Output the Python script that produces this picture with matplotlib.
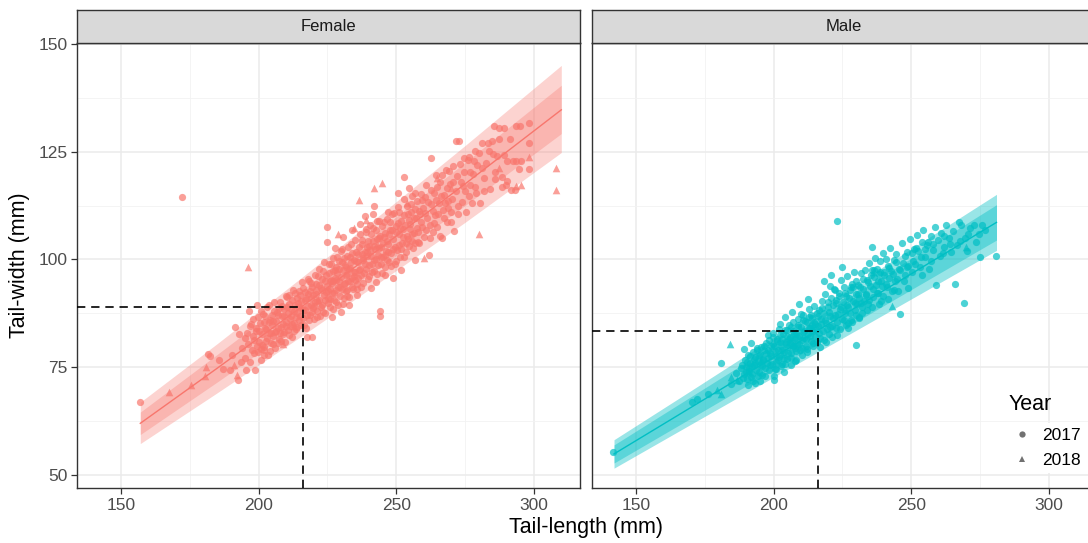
import matplotlib
matplotlib.use('Agg')
import matplotlib.pyplot as plt
from matplotlib.lines import Line2D
from matplotlib.ticker import MultipleLocator
import numpy as np

plt.rcParams['font.family'] = ['Liberation Sans', 'DejaVu Sans']

# ---- data ----
fem_2017 = [
    (157, 67.0), (172, 114.5), (181.6, 78.0), (182.2, 77.5), (185.5, 76.6), (187, 74.5), (189.5, 74.3),
    (190.5, 77.8), (191.3, 84.3), (192.5, 72.0), (192.9, 82.6), (193.5, 76.2), (194, 79.5), (195.5, 74.3),
    (195, 81.8), (196.4, 88.0), (196.8, 84.5), (197.5, 79.0), (198.6, 74.3), (198, 86.2), (198.5, 81.4),
    (199.5, 89.4), (199, 83.5), (199.8, 78.6), (200.2, 80.9), (200.5, 85.2), (201, 76.6), (201.2, 82.8),
    (201.5, 87.4), (202, 79.8), (202.3, 84.1), (202.8, 81.2), (203, 88.9), (203.4, 77.9), (203.8, 83.0),
    (204, 86.0), (204.5, 80.6), (204.8, 84.9), (205.2, 82.2), (205.5, 88.0), (205.9, 79.4), (206.2, 85.7),
    (206.5, 83.4), (207, 87.1), (207.3, 81.5), (207.6, 90.2), (208, 84.3), (208.4, 86.8), (208.8, 82.6),
    (209.2, 88.5), (209.5, 80.8), (209.9, 85.5), (210.2, 91.4), (210.5, 83.7), (210.8, 87.6), (211, 89.7),
    (211.4, 84.6), (211.8, 86.9), (212, 82.1), (212.3, 90.5), (212.7, 88.1), (213, 85.2), (213.3, 92.3),
    (213.6, 83.8), (214, 87.5), (214.3, 89.9), (214.6, 86.0), (215, 91.8), (215.3, 84.7), (215.6, 88.7),
    (216, 93.4), (216.3, 86.5), (216.7, 90.6), (217, 88.2), (217.4, 84.0), (217.5, 82.0), (217.8, 92.1),
    (218.1, 89.3), (218.4, 95.1), (218.8, 87.1), (219, 91.0), (219.5, 82.0), (219.4, 93.6), (219.8, 88.8),
    (220.1, 86.3), (220.4, 90.2), (220.7, 94.4), (221, 92.0), (221.3, 88.0), (221.6, 96.2), (222, 90.7),
    (222.3, 86.9), (222.6, 93.3), (223, 89.5), (223.3, 97.4), (223.6, 91.8), (224, 87.6), (224.3, 94.9),
    (224.6, 92.5), (224.9, 104.1), (224.9, 107.5),
    (225.2, 89.8), (225.5, 96.8), (225.8, 93.1), (226, 90.9), (226.3, 99.0), (226.6, 94.6), (227, 88.6),
    (227.3, 92.2), (227.6, 97.5), (228, 95.3), (228.3, 90.1), (228.6, 100.6), (229, 93.6), (229.3, 97.9),
    (229.6, 91.5), (230, 95.9), (230.3, 102.4), (230.6, 89.6), (231, 94.2), (231.3, 98.8), (231.6, 92.6),
    (232, 96.7), (232.3, 100.9), (232.6, 94.9), (233, 91.3), (233.3, 98.0), (233.6, 103.6), (234, 95.6),
    (234.3, 93.1), (234.6, 99.8), (235, 97.1), (235.3, 101.8), (235.6, 94.4), (226.8, 86.7), (229.8, 87.9),
    (232.8, 89.4), (227.8, 102.7), (230.8, 105.3), (233.8, 106.9), (235.8, 91.8), (228.2, 98.2),
    (231.8, 96.3), (234.8, 96.2), (226.2, 95.2), (229.2, 95.1), (232.2, 93.0), (225.1, 92.6), (233.2, 100.5),
    (230.4, 99.4), (227.2, 95.0),
    (236, 99.3), (236.3, 95.8), (236.6, 102.9), (237, 97.8), (237.3, 93.7), (237.6, 104.6), (238, 100.4),
    (238.3, 96.9), (238.6, 99.0), (239, 106.4), (239.3, 101.7), (239.6, 95.4), (240, 103.2), (240.3, 98.6),
    (240.6, 108.0), (241, 100.8), (241.3, 97.2), (241.4, 110.6), (241.7, 104.3), (242, 99.9), (242.3, 102.4),
    (242.6, 106.8), (243, 96.6), (243.3, 101.1), (243.6, 104.9), (244, 88.0), (244.2, 87.0), (244.3, 99.0),
    (244.6, 103.0), (245, 107.7), (245.3, 100.5), (245.6, 105.3), (246, 98.2), (246.3, 102.0), (246.6, 109.4),
    (236.8, 108.3), (238.8, 110.0), (240.8, 93.4), (242.8, 94.8), (245.8, 96.5), (237.5, 101.2),
    (239.5, 103.0), (243.8, 108.9), (241.9, 112.3), (246.8, 104.2),
    (247, 103.5), (247.4, 99.3), (247.8, 106.9), (248.2, 101.6), (248.6, 110.5), (249, 104.7), (249.4, 98.9),
    (249.8, 107.8), (250.2, 102.2), (250.6, 112.1), (251, 105.8), (251.4, 100.6), (251.8, 109.0),
    (252.2, 103.9), (252.6, 107.1), (253, 114.0), (253.4, 101.8), (253.8, 105.5), (254.2, 110.6),
    (254.6, 103.1), (255, 108.3), (255.4, 112.8), (255.8, 106.0), (256.2, 102.7), (256.6, 109.7), (257, 115.4),
    (257.4, 107.4), (257.8, 104.0), (258.2, 111.3), (248.9, 95.6), (251.9, 97.5), (254.8, 116.5),
    (256.9, 99.9), (250.5, 115.3), (252.9, 119.2),
    (259, 108.6), (259.5, 113.9), (260, 105.2), (260.5, 110.8), (261, 117.2), (261.9, 101.0), (262.2, 108.0),
    (262.8, 123.5), (262.6, 112.9), (263.2, 106.3), (263.6, 115.5), (264, 110.2), (264.5, 119.6), (265, 107.5),
    (265.5, 113.0), (266, 117.9), (266.5, 104.9), (267, 111.5), (267.5, 115.0), (268, 120.8), (268.5, 108.7),
    (269, 113.6), (269.5, 117.4), (270, 111.0), (270.5, 121.7), (271, 106.6), (271.6, 127.5), (271.8, 115.8),
    (272.3, 112.4), (272.9, 127.5),
    (273.2, 122.2), (273.5, 118.0), (274, 113.4), (274.5, 120.2), (275, 115.8), (275.5, 110.9), (276, 123.0),
    (276.6, 123.7), (277, 117.3), (277.5, 113.0), (278, 119.8), (278.6, 125.1), (279, 115.5), (279.5, 121.9),
    (280, 124.8), (280.5, 113.0), (281.3, 126.9), (282, 118.9), (282.5, 122.4), (283.4, 126.9), (283.7, 125.1),
    (284.2, 116.4), (284.9, 127.5), (285.5, 131.0), (286, 120.3), (286.5, 123.9), (287.3, 130.5),
    (287.3, 127.9), (288.5, 119.1), (289, 124.3), (290.3, 118.1), (290.3, 122.9), (291.2, 127.9), (291.6, 116.0),
    (292.3, 122.9), (293.4, 131.0), (293.4, 122.9), (294.6, 121.0), (295.5, 122.9), (298.2, 131.6),
    (298.2, 126.9), (298.2, 121.0), (289, 130.6), (295, 131.0), (293.2, 116.0), (290, 117.2), (288.5, 116.9),
] + [
    (195.2, 77.1), (195.8, 83.0), (196.2, 80.4), (196.9, 76.2), (197.3, 85.0), (197.8, 82.3), (198.2, 78.2),
    (198.9, 84.0), (199.3, 80.0), (199.7, 86.6), (200.1, 83.5), (200.7, 79.2), (200.9, 88.0), (201.4, 80.1),
    (201.8, 85.6), (201.9, 77.9), (202.5, 86.9), (202.6, 83.9), (202.1, 79.0), (203.2, 81.8), (203.6, 85.4),
    (203.9, 89.4), (204.2, 78.7), (204.6, 82.9), (204.9, 87.2), (205.1, 85.8), (205.4, 80.4), (205.7, 90.1),
    (206.1, 83.1), (206.7, 87.8), (206.9, 80.7), (207.1, 84.2), (207.5, 88.7), (207.9, 82.9), (208.1, 81.0),
    (208.5, 89.3), (208.7, 85.0), (209.1, 86.8), (209.4, 83.2), (209.8, 91.5), (210.1, 84.6), (210.4, 88.9),
    (210.9, 82.4), (211.2, 91.8), (211.5, 86.3), (211.9, 88.5), (212.1, 85.0), (212.5, 93.0), (212.9, 83.5),
    (213.1, 89.4), (213.5, 86.6), (213.8, 91.0), (214.1, 84.4), (214.5, 92.6), (214.8, 88.9), (215.1, 86.9),
    (215.5, 90.3), (215.8, 94.7), (216.1, 88.3), (216.5, 84.9), (216.9, 92.4), (217.2, 91.0), (217.6, 87.1),
    (217.9, 95.5), (218.2, 86.0), (218.6, 92.7), (218.9, 89.5), (219.1, 94.6), (219.3, 87.9), (219.7, 91.7),
    (220.2, 89.2), (220.5, 96.5), (220.9, 92.9), (221.1, 86.6), (221.4, 90.3), (221.8, 94.0), (222.1, 97.9),
    (222.5, 89.0), (222.9, 92.9), (223.1, 95.4), (223.5, 87.9), (223.8, 99.4), (224.1, 90.6), (224.5, 96.5),
    (224.8, 93.9), (225.3, 91.1), (225.7, 98.9), (225.9, 95.0), (226.1, 88.9), (226.5, 92.3), (226.9, 97.3),
    (227.1, 100.3), (227.5, 90.5), (227.9, 95.7), (228.1, 92.9), (228.5, 96.9), (228.9, 89.4), (229.1, 99.6),
    (229.5, 93.6), (229.9, 101.9), (230.2, 93.1), (230.5, 97.6), (230.9, 91.0), (231.1, 100.4), (231.5, 94.6),
    (231.9, 98.3), (232.1, 91.6), (232.5, 103.0), (232.9, 97.9), (233.1, 95.0), (233.5, 99.4), (233.9, 93.7),
    (234.1, 101.5), (234.5, 97.1), (234.9, 104.6), (235.1, 95.3), (235.5, 99.7), (235.9, 93.2), (236.1, 101.3),
    (236.5, 97.6), (236.9, 105.8), (237.1, 96.3), (237.5, 103.5), (237.9, 99.9), (238.1, 94.5), (238.5, 101.8),
    (238.9, 107.0), (239.1, 97.9), (239.5, 100.8), (239.9, 104.3), (240.1, 96.1), (240.5, 102.2),
    (240.9, 105.9), (241.1, 99.0), (241.5, 107.4), (241.9, 103.1), (242.1, 97.4), (242.5, 100.0),
    (242.9, 104.7), (243.1, 108.9), (243.5, 98.8), (243.9, 102.6), (244.1, 105.5), (244.5, 100.5),
    (244.9, 96.9), (245.1, 103.9), (245.5, 108.7), (245.9, 101.1), (246.1, 106.2), (246.5, 99.8),
    (246.9, 111.0), (247.1, 101.7), (247.5, 105.9), (247.9, 108.6), (248.1, 98.4), (248.5, 106.9),
    (248.9, 102.4), (249.1, 110.7), (249.5, 103.0), (249.9, 106.3), (250.1, 99.6), (250.5, 108.4),
    (250.9, 103.3), (251.1, 111.0), (251.5, 107.2), (251.9, 102.4), (252.3, 105.1), (252.7, 110.2),
    (252.9, 100.5), (253.3, 108.0), (253.7, 103.9), (253.9, 112.3), (254.3, 104.8), (254.7, 109.2),
    (254.9, 107.1), (255.3, 110.9), (255.7, 104.3), (255.9, 114.8), (256.3, 106.1), (256.7, 111.8),
    (256.9, 103.8), (257.3, 109.6), (257.7, 113.6), (257.9, 106.3), (258.3, 103.9), (258.7, 110.5),
    (258.9, 115.2), (259.3, 107.5), (259.7, 111.9), (260.3, 114.5), (260.7, 106.9), (261.3, 109.6),
    (261.7, 113.3), (262.3, 104.9), (262.7, 116.1), (263.3, 111.2), (263.8, 108.5), (264.3, 113.9),
    (264.8, 116.9), (265.3, 110.6), (265.8, 105.4), (266.3, 114.7), (266.8, 119.5), (267.3, 109.7),
    (267.8, 113.2), (268.3, 116.6), (268.8, 111.9), (269.3, 120.4), (269.8, 108.8), (270.3, 114.0),
    (270.8, 117.9), (272.1, 119.4), (272.6, 110.6), (274.2, 117.0), (274.8, 123.6), (276.3, 114.7),
    (276.8, 120.3), (278.3, 122.8), (278.8, 116.7), (281.2, 121.3), (281.8, 115.9), (285.2, 124.5),
    (285.8, 118.6),
]
fem_2018 = [
    (167.4, 69.2), (175.6, 71.0), (180.4, 72.9), (180.8, 75.1), (191, 75.5), (192, 73.3), (196, 98.3),
    (209, 80.5), (213, 84.5), (221.5, 90.6), (229, 105.8), (234.8, 107.2), (236.6, 113.7), (241.9, 116.6),
    (244.9, 117.7), (239, 109.2), (254, 113.0), (260.1, 100.4), (265, 118.8), (270, 116.5), (280.1, 105.8),
    (287.3, 121.2), (293.6, 117.1), (295.2, 117.3), (298.2, 123.7), (308.1, 121.2), (308.1, 116.1), (243, 103.5),
]
male_2017 = [
    (141.7, 55.4), (170.4, 67.0), (172, 67.7), (176.1, 68.9), (181, 76.0), (184.5, 71.2), (186.2, 73.6),
    (187.5, 71.8),
    (188.2, 74.9), (188.7, 72.6), (189.3, 73.5), (189.6, 76.8), (190, 75.0), (190.4, 72.2), (190.8, 77.9),
    (191.2, 74.2), (191.6, 76.1), (192, 73.4), (192.4, 78.6), (192.8, 75.6), (193.2, 77.3), (193.6, 74.4),
    (194, 79.4), (194.4, 76.4), (194.8, 73.9), (195.2, 78.0), (195.6, 75.4), (196, 77.0), (196.4, 80.0),
    (196.8, 74.8), (197.2, 78.4), (197.6, 76.0), (198, 79.1), (198.4, 81.3), (198.8, 75.5), (199.2, 77.7),
    (199.6, 80.4), (200, 72.0), (200.3, 73.0), (200.4, 78.7), (200.8, 76.3), (201.2, 81.6), (189.1, 79.3),
    (191.9, 80.7), (195, 71.9), (197.9, 82.4), (193.3, 71.4), (199.9, 83.0),
    (201.6, 79.0), (202, 77.3), (202.4, 82.5), (202.8, 80.0), (203.2, 75.8), (203.6, 78.5), (204, 83.6),
    (204.4, 80.9), (204.8, 77.0), (205.2, 79.8), (205.6, 84.7), (206, 82.0), (206.4, 78.3), (206.8, 81.2),
    (207.2, 85.6), (207.6, 79.5), (208, 83.0), (208.4, 80.4), (208.8, 86.3), (209.2, 82.2), (209.6, 78.9),
    (210, 84.4), (210.4, 81.4), (210.8, 87.1), (211.2, 83.4), (211.6, 79.9), (212, 85.4), (212.4, 82.6),
    (212.8, 88.5), (213.2, 84.0), (213.6, 81.0), (214, 86.4), (214.4, 83.3), (214.8, 89.2), (215.2, 85.0),
    (202.2, 85.0), (204.2, 86.7), (206.2, 75.5), (208.2, 76.8), (210.2, 77.9), (212.2, 79.2), (214.2, 80.6),
    (203, 81.5), (205, 82.3), (207, 83.3), (209, 84.9), (211, 81.8), (213, 86.6), (215, 82.3), (201, 74.5),
    (203.8, 73.9), (206.6, 87.9), (209.4, 89.6), (212.6, 90.9), (207.8, 81.9), (210.6, 85.9), (213.8, 84.8),
    (205.8, 80.6), (201.8, 83.8), (215.6, 87.6),
    (216, 84.6), (216.4, 88.3), (216.8, 81.9), (217.2, 86.1), (217.6, 90.4), (218, 83.5), (218.4, 87.5),
    (218.8, 92.0), (219.2, 85.3), (219.6, 88.9), (220, 82.7), (220.4, 86.8), (220.8, 91.0), (221.2, 84.6),
    (221.6, 89.4), (222, 93.1), (222.2, 93.0), (222.4, 87.2), (222.8, 90.6), (223.2, 85.4), (223.6, 92.3),
    (224, 88.4), (224.4, 95.2), (224.8, 86.3), (225.2, 90.1), (225.6, 93.6), (226, 87.7), (226.4, 91.6),
    (226.8, 96.1), (227.2, 89.0), (227.6, 92.9), (228, 86.0), (228.4, 94.4), (228.8, 90.3), (229.2, 97.2),
    (229.6, 88.2), (230, 92.0), (230.1, 95.1), (230.1, 80.1), (230.4, 89.6), (230.8, 94.1), (231.2, 91.1),
    (231.6, 96.8), (232, 88.9), (217, 79.8), (219, 80.8), (221, 96.3), (223, 82.5), (225, 98.3), (227, 84.1),
    (229, 93.5), (231, 86.5), (222.9, 109.0), (218.2, 95.0), (220.6, 93.8), (226.2, 84.7),
    (232.4, 93.2), (232.8, 90.3), (233.2, 97.6), (233.6, 92.0), (234, 95.3), (234.4, 89.6), (234.8, 99.1),
    (235.2, 93.8), (235.6, 97.5), (236, 91.4), (236.4, 95.9), (236.8, 100.3), (237.2, 94.0), (237.6, 97.9),
    (238, 92.3), (238.4, 96.6), (238.8, 99.6), (239.2, 94.9), (239.6, 101.5), (240, 97.0), (240.9, 100.0),
    (241.2, 93.6), (241.6, 98.5), (242, 95.8), (242.4, 102.6), (242.8, 97.3), (243.6, 99.8), (244, 95.0),
    (244.6, 101.2), (245.4, 97.8), (246, 87.4), (246.6, 103.9), (247.2, 99.1), (247.8, 96.3), (248.4, 101.7),
    (249, 98.4), (249.6, 104.8), (250.2, 101.5), (250.9, 102.5), (235.6, 102.8), (238.9, 90.3), (243.2, 92.8),
    (251.4, 99.0), (252, 105.6), (252.6, 101.9), (253.2, 98.2), (253.8, 104.0), (254.4, 106.8), (255, 100.6),
    (255.6, 103.3), (256, 104.0), (256.6, 97.9), (257.2, 105.4), (258, 102.1), (258.6, 107.6), (259, 94.0),
    (259.6, 104.4), (260.4, 100.9), (261, 106.1), (262, 103.0), (262.8, 108.1), (263.6, 104.9), (264.4, 101.7),
    (265.2, 106.5), (266.1, 94.4), (266.6, 103.4), (267.4, 108.7), (268, 108.0), (269.1, 90.0), (269.4, 105.0),
    (270.4, 102.0), (271.2, 107.3), (272.8, 108.0), (274.6, 105.9), (274.9, 100.5), (275.9, 108.0),
    (277, 106.8), (280.7, 100.9), (273.5, 104.0),
] + [
    (188.5, 75.6), (189.8, 73.9), (190.2, 76.3), (190.6, 70.8), (190.9, 74.9), (191.4, 77.6), (191.8, 72.7),
    (192.2, 75.4), (192.6, 71.9), (192.9, 77.0), (193.4, 76.0), (193.8, 79.0), (194.2, 73.0), (194.6, 77.9),
    (194.9, 75.5), (195.4, 79.8), (195.8, 73.2), (196.2, 76.8), (196.6, 78.9), (196.9, 72.9), (197.4, 80.6),
    (197.8, 77.1), (198.2, 74.4), (198.6, 78.4), (198.9, 80.0), (199.4, 75.8), (199.8, 82.0), (200.2, 79.9),
    (200.6, 74.6), (200.9, 77.7), (201.4, 81.0), (201.7, 76.6), (202.2, 80.8), (202.6, 75.2), (202.9, 78.9),
    (203.4, 82.6), (203.7, 77.1), (204.2, 75.7), (204.6, 80.5), (204.9, 83.6), (205.4, 78.3), (205.7, 81.5),
    (206.2, 84.3), (206.5, 77.1), (206.9, 79.9), (207.4, 82.6), (207.7, 76.5), (208.2, 78.7), (208.6, 82.1),
    (208.9, 84.4), (209.3, 80.3), (209.8, 87.4), (210.3, 79.4), (210.7, 83.1), (211.3, 85.7), (211.7, 81.6),
    (212.3, 78.6), (212.7, 84.0), (213.3, 82.2), (213.7, 87.2), (214.3, 79.9), (214.7, 85.6), (215.3, 83.9),
    (215.8, 80.9), (216.2, 86.8), (216.6, 83.0), (217.3, 85.1), (217.7, 88.7), (218.2, 81.3), (218.6, 86.0),
    (219.3, 83.8), (219.7, 90.2), (220.2, 87.9), (220.6, 84.3), (221.3, 82.1), (221.7, 86.4), (222.5, 89.8),
    (222.8, 84.1), (223.3, 87.3), (223.7, 91.5), (224.2, 83.9), (224.6, 88.9), (225.4, 86.0), (225.8, 92.2),
    (226.5, 89.5), (226.9, 85.3), (227.4, 91.0), (227.8, 87.7), (228.2, 93.5), (228.6, 85.6), (229.4, 89.9),
    (229.8, 87.2), (230.5, 91.9), (230.9, 86.7), (231.4, 93.6), (231.8, 89.8), (232.2, 87.5), (232.6, 95.4),
    (233.4, 91.8), (233.8, 88.3), (234.2, 94.8), (234.6, 90.6), (235.4, 96.3), (235.8, 88.9), (236.2, 93.1),
    (236.6, 97.5), (237.4, 92.2), (237.8, 95.0), (238.2, 89.6), (238.6, 97.0), (239.4, 93.9), (239.8, 91.5),
    (240.3, 96.4), (240.7, 94.2), (241.4, 90.8), (241.8, 98.1), (243.3, 96.6), (243.8, 92.9), (244.3, 99.5),
    (244.8, 95.4), (245.3, 92.8), (245.8, 97.6), (247.3, 95.0), (247.8, 100.9), (248.3, 98.2), (248.8, 93.4),
    (250.3, 97.1), (250.6, 99.7), (251.6, 102.7), (253.4, 100.6), (253.9, 96.5), (255.2, 102.4),
    (257.3, 99.7), (257.8, 103.7), (261.4, 101.5), (261.8, 105.4), (264.2, 103.7), (267.8, 104.2),
    (270.8, 106.0),
]
male_2018 = [
    (184, 80.3), (179.5, 69.7), (180.7, 68.9), (184.4, 72.8), (186.8, 72.0), (191, 74.0), (195.5, 76.8),
    (203, 78.0), (207, 80.2), (242.9, 89.1), (270.1, 102.9), (236, 97.0), (226, 88.5), (214, 84.0),
]

# fitted line and prediction bands
fem_fit_x = [157, 185, 216, 245, 275, 310]
fem_fit_y = [62.0, 74.8, 89.2, 103.0, 117.5, 134.7]
fem_outer_lo = [57.3, 69.1, 82.4, 95.2, 108.6, 124.8]
fem_outer_hi = [66.9, 80.5, 96.0, 110.8, 126.4, 145.0]
fem_inner_lo = [59.4, 71.6, 85.4, 98.6, 112.5, 129.2]
fem_inner_hi = [64.6, 78.0, 93.0, 107.4, 122.5, 140.4]

male_fit_x = [142, 170, 200, 216, 240, 281]
male_fit_y = [54.9, 65.7, 77.3, 83.5, 92.8, 108.6]
male_outer_lo = [51.6, 61.8, 72.7, 78.5, 87.2, 102.1]
male_outer_hi = [58.2, 69.6, 81.9, 88.5, 98.4, 115.1]
male_inner_lo = [52.8, 63.2, 74.4, 80.3, 89.3, 104.5]
male_inner_hi = [57.0, 68.2, 80.2, 86.7, 96.3, 112.7]

# reference cut-off (dashed lines)
cut_x = 216
cut_y = {'Female': 89.0, 'Male': 83.5}

col_f = '#F8766D'
col_m = '#00BFC4'

W, H = 1088, 543
fig = plt.figure(figsize=(W / 100, H / 100), dpi=100)

px = lambda v: v / W
py = lambda v: v / H
ax_bottom = 1 - py(488)
ax_h = py(445)
ax_w = px(503)

panels = [
    ('Female', 77, col_f, fem_2017, fem_2018, fem_fit_x, fem_fit_y,
     fem_outer_lo, fem_outer_hi, fem_inner_lo, fem_inner_hi, 0.32),
    ('Male', 592, col_m, male_2017, male_2018, male_fit_x, male_fit_y,
     male_outer_lo, male_outer_hi, male_inner_lo, male_inner_hi, 0.40),
]

xlim = (134, 316.8)
ylim = (47.0, 150.2)

for i, (name, left, col, d17, d18, fx, fy, olo, ohi, ilo, ihi, balpha) in enumerate(panels):
    ax = fig.add_axes([px(left), ax_bottom, ax_w, ax_h])
    ax.set_xlim(*xlim)
    ax.set_ylim(*ylim)

    ax.xaxis.set_major_locator(MultipleLocator(50))
    ax.xaxis.set_minor_locator(MultipleLocator(25))
    ax.yaxis.set_major_locator(MultipleLocator(25))
    ax.yaxis.set_minor_locator(MultipleLocator(12.5))
    ax.grid(which='major', color='#EBEBEB', lw=1.1, zorder=0)
    ax.grid(which='minor', color='#F2F2F2', lw=0.6, zorder=0)
    ax.set_axisbelow(True)

    ax.fill_between(fx, olo, ohi, color=col, alpha=balpha, lw=0, zorder=1)
    ax.fill_between(fx, ilo, ihi, color=col, alpha=balpha, lw=0, zorder=1)

    a = np.array(d17)
    ax.scatter(a[:, 0], a[:, 1], s=27, marker='o', color=col, alpha=0.7, lw=0, zorder=2)
    b = np.array(d18)
    ax.scatter(b[:, 0], b[:, 1], s=30, marker='^', color=col, alpha=0.7, lw=0, zorder=2)

    ax.plot(fx, fy, color=col, lw=1.0, zorder=3)

    cy = cut_y[name]
    ax.plot([xlim[0], cut_x], [cy, cy], color='black', lw=1.2, ls=(0, (5, 3.5)), zorder=4)
    ax.plot([cut_x, cut_x], [ylim[0], cy], color='black', lw=1.2, ls=(0, (5, 3.5)), zorder=4)

    for sp in ax.spines.values():
        sp.set_color('#333333')
        sp.set_linewidth(1.0)
    ax.tick_params(which='major', length=4, width=0.9, color='#333333',
                   labelsize=12.5, labelcolor='#4D4D4D', pad=3)
    ax.tick_params(which='minor', length=0)
    if i > 0:
        ax.tick_params(axis='y', labelleft=False, length=0)

    # facet strip
    sax = fig.add_axes([px(left), 1 - py(43), ax_w, py(33)])
    sax.set_facecolor('#D9D9D9')
    sax.set_xticks([])
    sax.set_yticks([])
    for sp in sax.spines.values():
        sp.set_color('#333333')
        sp.set_linewidth(1.0)
    sax.text(0.5, 0.5, name, ha='center', va='center', fontsize=12, color='#1A1A1A',
             transform=sax.transAxes)

fig.text(px(20), 1 - py(265), 'Tail-width (mm)', rotation=90, ha='center', va='center',
         fontsize=15.5, color='black')
fig.text(px(586), 1 - py(527), 'Tail-length (mm)', ha='center', va='center',
         fontsize=15.5, color='black')

# legend
fig.text(px(1009), 1 - py(405), 'Year', ha='left', va='center', fontsize=15.5, color='black')
handles = [Line2D([], [], marker='o', ls='none', color='#4D4D4D', markersize=4.5, alpha=0.8, mew=0),
           Line2D([], [], marker='^', ls='none', color='#4D4D4D', markersize=5, alpha=0.8, mew=0)]
leg = fig.legend(handles, ['2017', '2018'], loc='upper left', bbox_to_anchor=(px(1006), 1 - py(423)),
                 frameon=True, facecolor='white', edgecolor='none', framealpha=1, fancybox=False,
                 fontsize=12.5, handlelength=1.2, handletextpad=0.6, labelspacing=0.55,
                 borderpad=0.3, borderaxespad=0)
for t in leg.get_texts():
    t.set_color('black')

fig.savefig('out.png', dpi=100)
